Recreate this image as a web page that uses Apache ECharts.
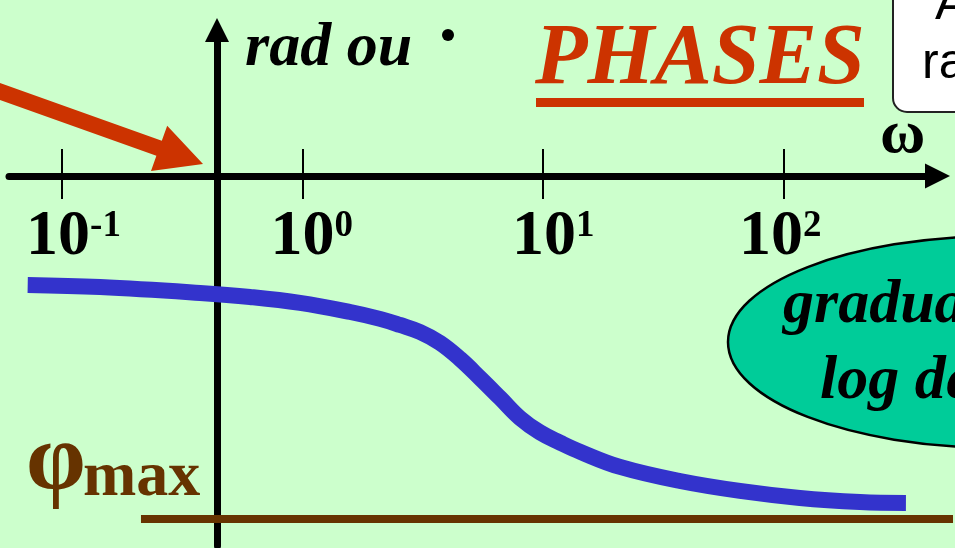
<!DOCTYPE html>
<html>
<head>
<meta charset="utf-8">
<script src="https://cdn.jsdelivr.net/npm/echarts@6/dist/echarts.min.js"></script>
<style>
  html, body { margin: 0; padding: 0; background: #ccffcc; }
  #chart { width: 955px; height: 548px; }
</style>
</head>
<body>
<div id="chart"></div>
<script>
// Phase response: angular frequency (rad/s) and phase (degrees)
const omega = [0.072, 0.144, 0.375, 0.605, 0.976, 1.58, 2.1, 2.54, 3.08, 3.73, 4.52,
               5.47, 6.63, 8.02, 9.72, 11.8, 14.3, 20.9, 37.1, 65.9, 117, 208, 323];
const phaseDeg = [-57.2, -58.3, -61.4, -63.5, -66.6, -71.4, -75.0, -78.2, -81.9, -87.6,
                  -96.0, -106.0, -116.5, -127.0, -134.6, -140.0, -144.8, -152.7, -160.1,
                  -165.3, -169.0, -171.1, -171.6];

// Asymptotic phase limit and the frequency span of its reference line
const phiMax = -180;
const phiMaxSpan = [0.213, 507];

// Decade ticks (exponents of 10) and visible frequency / phase windows
const decadeExponents = [-1, 0, 1, 2];
const omegaWindow = [0.0602, 437];     // frequency axis, up to the arrow
const omegaWindowWide = [0.0602, 507]; // same scale, full plotting width
const phaseWindow = [-194.2, 76.6];

const SERIF = '"Liberation Serif", "Times New Roman", serif';
const SANS = '"Liberation Sans", Arial, sans-serif';

const lg = Math.log10;
const curve = omega.map((w, i) => [lg(w), phaseDeg[i]]);
const limitLine = phiMaxSpan.map(w => [lg(w), phiMax]);

// Place text by its baseline (zrender draws with a middle baseline)
function txt(text, x, baseline, size, extra) {
  const family = (extra && extra.fontFamily) || SERIF;
  const k = family === SANS ? 0.3465 : 0.3375;
  return {
    type: 'text', z: 20,
    style: Object.assign({
      text: text, x: x, y: baseline - k * size,
      fontSize: size, fontFamily: SERIF, fontWeight: 'bold',
      fill: '#000', align: 'left', verticalAlign: 'middle'
    }, extra || {})
  };
}

// Decade labels "10^n": the mantissa sits over its tick, the exponent hangs right.
// Small horizontal nudges (px) keep each mantissa where the hand-drawn slide had it.
const labelNudge = [-4, 0, 1, -12.5];
const supWidth = e => (e < 0 ? 31 : 18.5);
const labelRich = {
  b: { fontFamily: SERIF, fontWeight: 'bold', fontSize: 64, lineHeight: 64, color: '#000' },
  s: { fontFamily: SERIF, fontWeight: 'bold', fontSize: 37, lineHeight: 37, color: '#000',
       verticalAlign: 'top', padding: [3, 0, 0, 0] }
};
decadeExponents.forEach((e, i) => {
  const pad = supWidth(e) + 2 * labelNudge[i];
  labelRich['l' + i] = { width: Math.max(pad, 0.01), fontSize: 10 };
  labelRich['r' + i] = { width: Math.max(-pad, 0.01), fontSize: 10 };
});
function decadeLabel(v) {
  const i = decadeExponents.indexOf(Math.round(v));
  return '{l' + i + '| }{b|10}{s|' + v + '}{r' + i + '| }';
}

const chart = echarts.init(document.getElementById('chart'));

const hidden = { show: false };
const tickStyle = { color: '#000', width: 2 };

chart.setOption({
  animation: false,
  backgroundColor: '#ccffcc',
  grid: [
    // axes frame: the horizontal axis stops at its arrow
    { left: 9, right: 17.5, top: 30, bottom: 2, outerBoundsMode: 'none' },
    // same scales, extended to the right edge for the limit line
    { left: 9, right: 2, top: 30, bottom: 2, outerBoundsMode: 'none' }
  ],
  xAxis: [
    {
      gridIndex: 0, type: 'value', position: 'bottom', offset: -370,
      min: lg(omegaWindow[0]), max: lg(omegaWindow[1]),
      axisLine: {
        onZero: false,
        symbol: ['none', 'triangle'], symbolSize: [25, 25],
        lineStyle: { color: '#000', width: 7 }
      },
      axisTick: { customValues: decadeExponents, length: 23, lineStyle: tickStyle },
      axisLabel: {
        customValues: decadeExponents,
        margin: 29,
        formatter: decadeLabel,
        rich: labelRich
      },
      splitLine: hidden
    },
    {
      gridIndex: 0, type: 'value', position: 'top', offset: -146,
      min: lg(omegaWindow[0]), max: lg(omegaWindow[1]),
      axisLine: { show: false, onZero: false },
      axisTick: { customValues: decadeExponents, length: 27, lineStyle: tickStyle },
      axisLabel: hidden,
      splitLine: hidden
    },
    {
      gridIndex: 1, type: 'value',
      min: lg(omegaWindowWide[0]), max: lg(omegaWindowWide[1]),
      axisLine: hidden, axisTick: hidden, axisLabel: hidden, splitLine: hidden
    }
  ],
  yAxis: [
    {
      gridIndex: 0, type: 'value', min: phaseWindow[0], max: phaseWindow[1],
      offset: -208,
      axisLine: {
        show: true, onZero: false,
        symbol: ['none', 'triangle'], symbolSize: [24, 24],
        lineStyle: { color: '#000', width: 7 }
      },
      axisTick: hidden, axisLabel: hidden, splitLine: hidden
    },
    {
      gridIndex: 1, type: 'value', min: phaseWindow[0], max: phaseWindow[1],
      axisLine: hidden, axisTick: hidden, axisLabel: hidden, splitLine: hidden
    }
  ],
  series: [
    {
      type: 'line', xAxisIndex: 2, yAxisIndex: 1, data: limitLine, symbol: 'none', z: 2,
      lineStyle: { color: '#663300', width: 8, cap: 'butt' }
    },
    {
      type: 'line', xAxisIndex: 0, yAxisIndex: 0, data: curve, smooth: 0.4,
      symbol: 'none', z: 3,
      lineStyle: { color: '#3333cc', width: 16, cap: 'butt', join: 'round' }
    }
  ],
  graphic: [
    // pointer arrow towards the origin
    {
      type: 'polygon', z: 15,
      shape: { points: [[-17.3, 76.9], [161.8, 140.8], [167.2, 125.7], [203, 164],
                        [151, 170.9], [156.4, 155.8], [-22.7, 91.9]] },
      style: { fill: '#cc3300' }
    },
    // vertical axis caption: rad ou °
    txt('rad ou', 245, 70, 62, { fontStyle: 'italic' }),
    { type: 'circle', z: 20, shape: { cx: 448, cy: 35, r: 6 }, style: { fill: '#000' } },
    // title
    txt('PHASES', 535, 90, 86, { fontStyle: 'italic', fill: '#cc3300' }),
    { type: 'rect', z: 20, shape: { x: 536, y: 98, width: 328, height: 9 }, style: { fill: '#cc3300' } },
    // frequency symbol
    txt('ω', 880, 157, 62),
    // note box
    {
      type: 'rect', z: 18,
      shape: { x: 893, y: -20, width: 120, height: 132, r: 14 },
      style: { fill: '#fff', stroke: '#222', lineWidth: 2 }
    },
    txt('A', 935, 23, 50, { fontFamily: SANS, fontWeight: 'normal' }),
    txt('ra', 922, 82, 50, { fontFamily: SANS, fontWeight: 'normal' }),
    // log scale bubble
    {
      type: 'ellipse', z: 18,
      shape: { cx: 1000, cy: 342, rx: 272, ry: 106 },
      style: { fill: '#00cc99', stroke: '#000', lineWidth: 2.5 }
    },
    txt('graduation', 783, 327, 62, { fontStyle: 'italic' }),
    txt('log décimale', 820, 403, 62, { fontStyle: 'italic' }),
    // phase limit label
    txt('φ', 26, 497, 96, { fill: '#663300' }),
    txt('max', 83, 500, 64, { fill: '#663300' })
  ]
});
</script>
</body>
</html>
